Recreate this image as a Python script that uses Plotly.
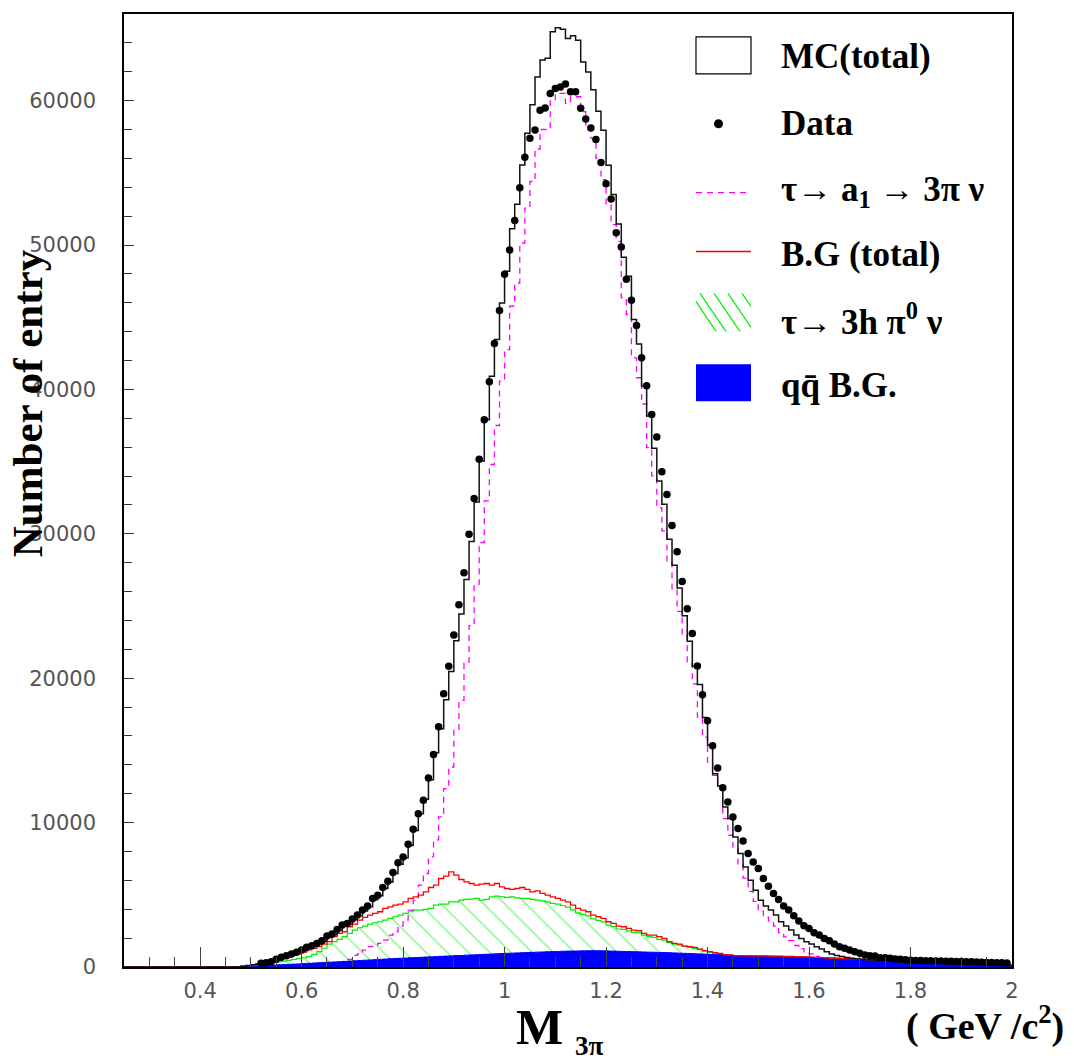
import numpy as np
import plotly.graph_objects as go

# ---------------- data (bin width 0.01 GeV, bins from 0.25 to 2.00) ----------------
BIN_START = 0.25
BIN_W = 0.01
N_ZERO = 20  # bins 0.25 .. 0.44 are empty

# values for bins 0.45 .. 1.99
mc_total = [
    0, 0, 0, 60, 110,
    160, 200, 240, 290, 360, 500, 630, 750, 860, 980,
    1120, 1300, 1430, 1590, 1780, 2060, 2240, 2540, 2840, 2980,
    3270, 3550, 3880, 4170, 4660, 4930, 5440, 5880, 6470, 7120,
    7560, 8420, 9450, 10620, 11610, 12970, 14840, 16500, 18500, 20460,
    22600, 24450, 26840, 29470, 32210, 35050, 37900, 40920, 43460, 45990,
    48180, 51130, 52830, 55550, 57740, 59720, 61640, 62810, 62930, 64770,
    65040, 64950, 64300, 64490, 64190, 62670, 61980, 60750, 59260, 57950,
    55530, 53500, 51450, 49150, 47830, 44840, 43150, 40230, 38160, 35920,
    33660, 32050, 29630, 27830, 26250, 24330, 22560, 20830, 19560, 17280,
    15350, 13390, 12530, 11080, 10280, 9010, 7856, 6933, 6014, 5322,
    4631, 4216, 3940, 3594, 3133, 2834, 2558, 2212, 1982, 1751,
    1590, 1405, 1244, 1060, 900, 800, 720, 660, 610, 570,
    540, 515, 492, 472, 452, 433, 415, 397, 379, 362,
    346, 330, 315, 302, 290, 277, 265, 253, 241, 229,
    218, 206, 195, 184, 174, 164, 154, 144, 134, 124,
]

a1_signal = [
    0, 0, 0, 0, 0,
    0, 0, 0, 0, 0, 5, 8, 10, 12, 15,
    20, 40, 60, 90, 130, 170, 220, 300, 370, 530,
    806, 900, 1175, 1405, 1520, 1636, 1866, 2212, 2442, 2834,
    3249, 3940, 4631, 5668, 6475, 7626, 8800, 10400, 12350, 13850,
    16380, 18460, 21030, 23640, 26520, 29400, 32280, 34800, 37500, 40570,
    42760, 45760, 47370, 50140, 52560, 54400, 56650, 58000, 58000, 60000,
    60500, 60500, 59810, 60270, 60270, 59240, 58320, 57400, 56010, 54520,
    52790, 51410, 50260, 46340, 45190, 42190, 40810, 38990, 35970, 34010,
    31820, 30210, 28060, 26180, 24630, 22950, 20990, 19610, 17300, 15920,
    14190, 13270, 12350, 10280, 9124, 8220, 7070, 6150, 5240, 4550,
    3863, 3451, 3180, 2839, 2383, 2092, 1826, 1490, 1270, 1049,
    910, 740, 594, 425, 280, 194, 128, 84, 50, 25,
    12, 9, 7, 6, 5, 4, 3, 3, 2, 2,
    0, 0, 0, 0, 0, 0, 0, 0, 0, 0,
    0, 0, 0, 0, 0, 0, 0, 0, 0, 0,
]

bg_total = [
    0, 0, 15, 55, 100,
    155, 195, 235, 285, 350, 480, 600, 710, 810, 910,
    1030, 1180, 1290, 1420, 1580, 1751, 2097, 2327, 2442, 2788,
    2972, 3249, 3433, 3594, 3710, 3825, 4055, 4170, 4286, 4355,
    4516, 4747, 4862, 4977, 5207, 5507, 5668, 6129, 6290, 6590,
    6359, 6060, 5898, 5783, 5668, 5737, 5783, 5668, 5783, 5553,
    5438, 5369, 5438, 5507, 5369, 5207, 5277, 5092, 4977, 4862,
    4747, 4631, 4516, 4286, 4055, 3940, 3825, 3594, 3479, 3364,
    3133, 3018, 2834, 2788, 2673, 2558, 2511, 2327, 2212, 2212,
    2097, 1982, 1751, 1636, 1590, 1452, 1405, 1359, 1244, 1129,
    1060, 991, 945, 850, 830, 790, 785, 780, 775, 770,
    768, 765, 760, 755, 750, 742, 732, 722, 712, 702,
    680, 665, 650, 635, 620, 606, 592, 576, 560, 545,
    528, 506, 485, 466, 447, 428, 410, 392, 374, 356,
    340, 324, 309, 296, 284, 271, 259, 247, 235, 223,
    212, 200, 189, 178, 168, 158, 148, 138, 128, 118,
]

bg_3h_pi0 = [
    0, 0, 10, 40, 80,
    120, 160, 210, 260, 310, 360, 410, 460, 520, 580,
    640, 714, 880, 1060, 1300, 1590, 1751, 1912, 2097, 2327,
    2558, 2719, 2834, 2972, 3064, 3133, 3249, 3364, 3479, 3594,
    3710, 3825, 3940, 3940, 3986, 4055, 4286, 4355, 4355, 4516,
    4516, 4631, 4677, 4700, 4747, 4631, 4677, 4862, 4908, 4862,
    4816, 4862, 4792, 4747, 4747, 4677, 4631, 4585, 4516, 4401,
    4355, 4260, 4150, 3960, 3750, 3650, 3540, 3330, 3230, 3120,
    2900, 2800, 2630, 2600, 2500, 2400, 2373, 2212, 2097, 2051,
    1912, 1866, 1682, 1590, 1521, 1452, 1359, 1290, 1221, 1106,
    1014, 945, 899, 830, 806, 780, 775, 765, 760, 755,
    750, 745, 740, 733, 725, 717, 709, 700, 691, 681,
    667, 653, 639, 625, 611, 597, 583, 567, 551, 535,
    515, 495, 475, 457, 439, 421, 403, 385, 367, 350,
    334, 319, 304, 292, 280, 268, 256, 244, 232, 220,
    209, 197, 186, 175, 165, 155, 145, 135, 125, 115,
]

bg_qq = [
    0, 0, 10, 25, 45,
    60, 75, 90, 110, 130, 150, 165, 185, 200, 215,
    235, 255, 275, 295, 315, 335, 350, 370, 390, 410,
    430, 450, 470, 490, 510, 530, 550, 570, 590, 605,
    620, 640, 655, 670, 690, 705, 720, 740, 755, 770,
    790, 800, 820, 835, 850, 870, 885, 900, 920, 935,
    950, 960, 975, 990, 1000, 1015, 1030, 1040, 1055, 1065,
    1080, 1090, 1100, 1105, 1110, 1120, 1125, 1130, 1125, 1120,
    1110, 1100, 1090, 1080, 1070, 1060, 1050, 1040, 1030, 1020,
    1010, 1000, 990, 975, 960, 945, 930, 920, 905, 890,
    875, 860, 850, 835, 815, 790, 770, 760, 755, 750,
    745, 740, 735, 728, 720, 712, 704, 695, 686, 676,
    662, 648, 634, 620, 606, 592, 578, 562, 546, 530,
    510, 490, 470, 452, 434, 416, 398, 380, 362, 345,
    330, 315, 300, 288, 276, 264, 252, 240, 228, 216,
    205, 194, 183, 172, 162, 152, 142, 132, 122, 112,
]

# data points (plotted at 0.52 .. 1.99)
DATA_START = 0.52
data_counts = [
    256, 300, 369, 530, 668, 783, 899, 1014,
    1175, 1360, 1475, 1636, 1820, 2143, 2281, 2604, 2903, 3018,
    3318, 3594, 3940, 4216, 4747, 4977, 5507, 5944, 6543, 7212,
    7626, 8502, 9539, 10620, 11543, 13086, 14723, 16640, 18918, 20828,
    22994, 25080, 27303, 29977, 32441, 35162, 37900, 40530, 43180, 45460,
    47970, 49650, 51700, 53960, 56080, 57390, 57970, 59330, 59490, 60500,
    60840, 60940, 61150, 60620, 60620, 59470, 58730, 58110, 57300, 55710,
    54240, 53180, 50850, 49860, 47630, 46170, 44420, 42190, 40250, 38270,
    36700, 34290, 32720, 30570, 28750, 26700, 24810, 23090, 20850, 18850,
    17050, 15320, 13780, 12420, 11430, 10390, 9585, 8730, 7856, 7280,
    6820, 6130, 5600, 5090, 4680, 4220, 3940, 3550, 3180, 2860,
    2670, 2370, 2210, 1980, 1820, 1590, 1400, 1290, 1175, 1060,
    945, 830, 780, 760, 645, 645, 600, 553, 530, 507,
    460, 455, 445, 440, 430, 420, 410, 400, 395, 385,
    375, 365, 355, 345, 335, 320, 310, 300, 290, 280,
]

x_tick_labels = ["0.4", "0.6", "0.8", "1", "1.2", "1.4", "1.6", "1.8", "2"]
y_tick_labels = ["0", "10000", "20000", "30000", "40000", "50000", "60000"]

# ---------------- helpers ----------------
n_bins = N_ZERO + len(mc_total)
edges = np.round(BIN_START + BIN_W * np.arange(n_bins + 1), 4)


def step_xy(vals):
    v = [0] * N_ZERO + list(vals)
    x = list(edges)
    y = v + [v[-1]]
    return x, y


data_x = np.round(DATA_START + BIN_W * np.arange(len(data_counts)), 4)

# plot-area geometry (pixels) for annotations/legend placement
L, R, T, B = 124, 1012, 12, 967
W_PX, H_PX = R - L, B - T


def px(xp):
    return (xp - L) / W_PX


def py(yp):
    return (B - yp) / H_PX


fig = go.Figure()

# green hatched 3h pi0 background
gx, gy = step_xy(bg_3h_pi0)
fig.add_trace(go.Scatter(
    x=gx, y=gy, mode="lines", line=dict(shape="hv", color="#00ee00", width=1.2),
    fill="tozeroy", fillcolor="rgba(0,0,0,0)",
    fillpattern=dict(shape="\\", fgcolor="#00ee00", bgcolor="rgba(0,0,0,0)",
                     size=15, solidity=0.09),
    showlegend=False, hoverinfo="skip"))

# a1 signal (magenta dashed)
ax_, ay_ = step_xy(a1_signal)
fig.add_trace(go.Scatter(
    x=ax_, y=ay_, mode="lines",
    line=dict(shape="hv", color="#ff00ff", width=1.3, dash="6px,5px"),
    showlegend=False, hoverinfo="skip"))

# q qbar background (blue filled)
qx, qy = step_xy(bg_qq)
fig.add_trace(go.Scatter(
    x=qx, y=qy, mode="lines", line=dict(shape="hv", color="#0000ff", width=1),
    fill="tozeroy", fillcolor="#0000ff", showlegend=False, hoverinfo="skip"))

# total background (red)
rx, ry = step_xy(bg_total)
fig.add_trace(go.Scatter(
    x=rx, y=ry, mode="lines", line=dict(shape="hv", color="#ff0000", width=1.3),
    showlegend=False, hoverinfo="skip"))

# MC total (black)
mx, my = step_xy(mc_total)
fig.add_trace(go.Scatter(
    x=mx, y=my, mode="lines", line=dict(shape="hv", color="#111111", width=1.5),
    showlegend=False, hoverinfo="skip"))

# data
fig.add_trace(go.Scatter(
    x=data_x, y=data_counts, mode="markers",
    marker=dict(color="black", size=7.5, symbol="circle"),
    showlegend=False, hoverinfo="skip"))

# ---------------- legend (manual) ----------------
shapes = []
lx0, lx1 = px(696), px(751)
shapes.append(dict(type="rect", xref="paper", yref="paper", x0=lx0, x1=lx1,
                   y0=py(72), y1=py(35), line=dict(color="black", width=1.2),
                   fillcolor="white"))
shapes.append(dict(type="circle", xref="paper", yref="paper",
                   x0=px(714), x1=px(723), y0=py(126.5), y1=py(117.5),
                   line=dict(color="black", width=0), fillcolor="black"))
shapes.append(dict(type="line", xref="paper", yref="paper", x0=lx0, x1=lx1,
                   y0=py(191), y1=py(191),
                   line=dict(color="#ff00ff", width=1.3, dash="6px,5px")))
shapes.append(dict(type="line", xref="paper", yref="paper", x0=lx0, x1=lx1,
                   y0=py(250), y1=py(250), line=dict(color="#ff0000", width=1.3)))
for (xa, ya, xb, yb) in [(696, 300, 716, 330), (700, 292, 726, 330),
                         (714, 292, 740, 330), (728, 292, 751, 326),
                         (742, 292, 751, 305)]:
    shapes.append(dict(type="line", xref="paper", yref="paper",
                       x0=px(xa), y0=py(ya), x1=px(xb), y1=py(yb),
                       line=dict(color="#00ee00", width=1.2)))
shapes.append(dict(type="rect", xref="paper", yref="paper", x0=lx0, x1=lx1,
                   y0=py(400), y1=py(363), line=dict(color="#0000ff", width=0),
                   fillcolor="#0000ff"))

serif = "Liberation Serif, Times New Roman, serif"
leg_font = dict(family=serif, size=35, color="black")
annotations = []
for text, yp in [("<b>MC(total)</b>", 55), ("<b>Data</b>", 122),
                 ("<b>τ→ a<sub>1</sub> → 3π ν</b>", 190),
                 ("<b>B.G (total)</b>", 253),
                 ("<b>τ→ 3h π<sup>0</sup> ν</b>", 318),
                 ("<b>qq\u0304 B.G.</b>", 384)]:
    annotations.append(dict(text=text, xref="paper", yref="paper", x=px(779), y=py(yp),
                            xanchor="left", yanchor="middle", showarrow=False,
                            font=leg_font))

# axis titles
annotations.append(dict(text="<b>Number of entry</b>", xref="paper", yref="paper",
                        x=px(27), y=py(402), textangle=-90, showarrow=False,
                        xanchor="center", yanchor="middle",
                        font=dict(family=serif, size=43, color="black")))
annotations.append(dict(text="<b>M</b>", xref="paper", yref="paper",
                        x=px(539), y=py(1027), showarrow=False,
                        xanchor="center", yanchor="middle",
                        font=dict(family=serif, size=50, color="black")))
annotations.append(dict(text="<b>3π</b>", xref="paper", yref="paper",
                        x=px(589), y=py(1046), showarrow=False,
                        xanchor="center", yanchor="middle",
                        font=dict(family=serif, size=27, color="black")))
annotations.append(dict(text="<b>( GeV /c<sup>2</sup>)</b>", xref="paper", yref="paper",
                        x=px(985), y=py(1024), showarrow=False,
                        xanchor="center", yanchor="middle",
                        font=dict(family=serif, size=38, color="black")))

tick_font = dict(family="DejaVu Sans, sans-serif", size=21, color="#555555")

fig.update_layout(
    width=1074, height=1064,
    margin=dict(l=L, r=1074 - R, t=T, b=1064 - B),
    paper_bgcolor="white", plot_bgcolor="white",
    shapes=shapes, annotations=annotations, showlegend=False,
    xaxis=dict(range=[BIN_START, 2.0], tickmode="array",
               tickvals=[float(t) for t in x_tick_labels], ticktext=x_tick_labels,
               ticks="inside", ticklen=20, tickwidth=1.2, tickcolor="#444",
               minor=dict(dtick=0.05, tick0=0.25, ticks="inside", ticklen=10,
                          tickwidth=1, tickcolor="#444", showgrid=False),
               showgrid=False, zeroline=False, showline=True, mirror=True,
               linecolor="black", linewidth=1.5, tickfont=tick_font,
               ticklabelstandoff=4),
    yaxis=dict(range=[0, 66000], tickmode="array",
               tickvals=[float(t) for t in y_tick_labels], ticktext=y_tick_labels,
               ticks="inside", ticklen=10, tickwidth=1.2, tickcolor="#333",
               minor=dict(dtick=2000, tick0=0, ticks="inside", ticklen=8,
                          tickwidth=1, tickcolor="#333", showgrid=False),
               showgrid=False, zeroline=False, showline=True, mirror=True,
               linecolor="black", linewidth=1.5, tickfont=tick_font,
               ticklabelstandoff=22),
)

fig.write_html("out.html", config={"displayModeBar": False},
               post_script="document.body.style.margin='0px';document.body.style.overflow='hidden';")
